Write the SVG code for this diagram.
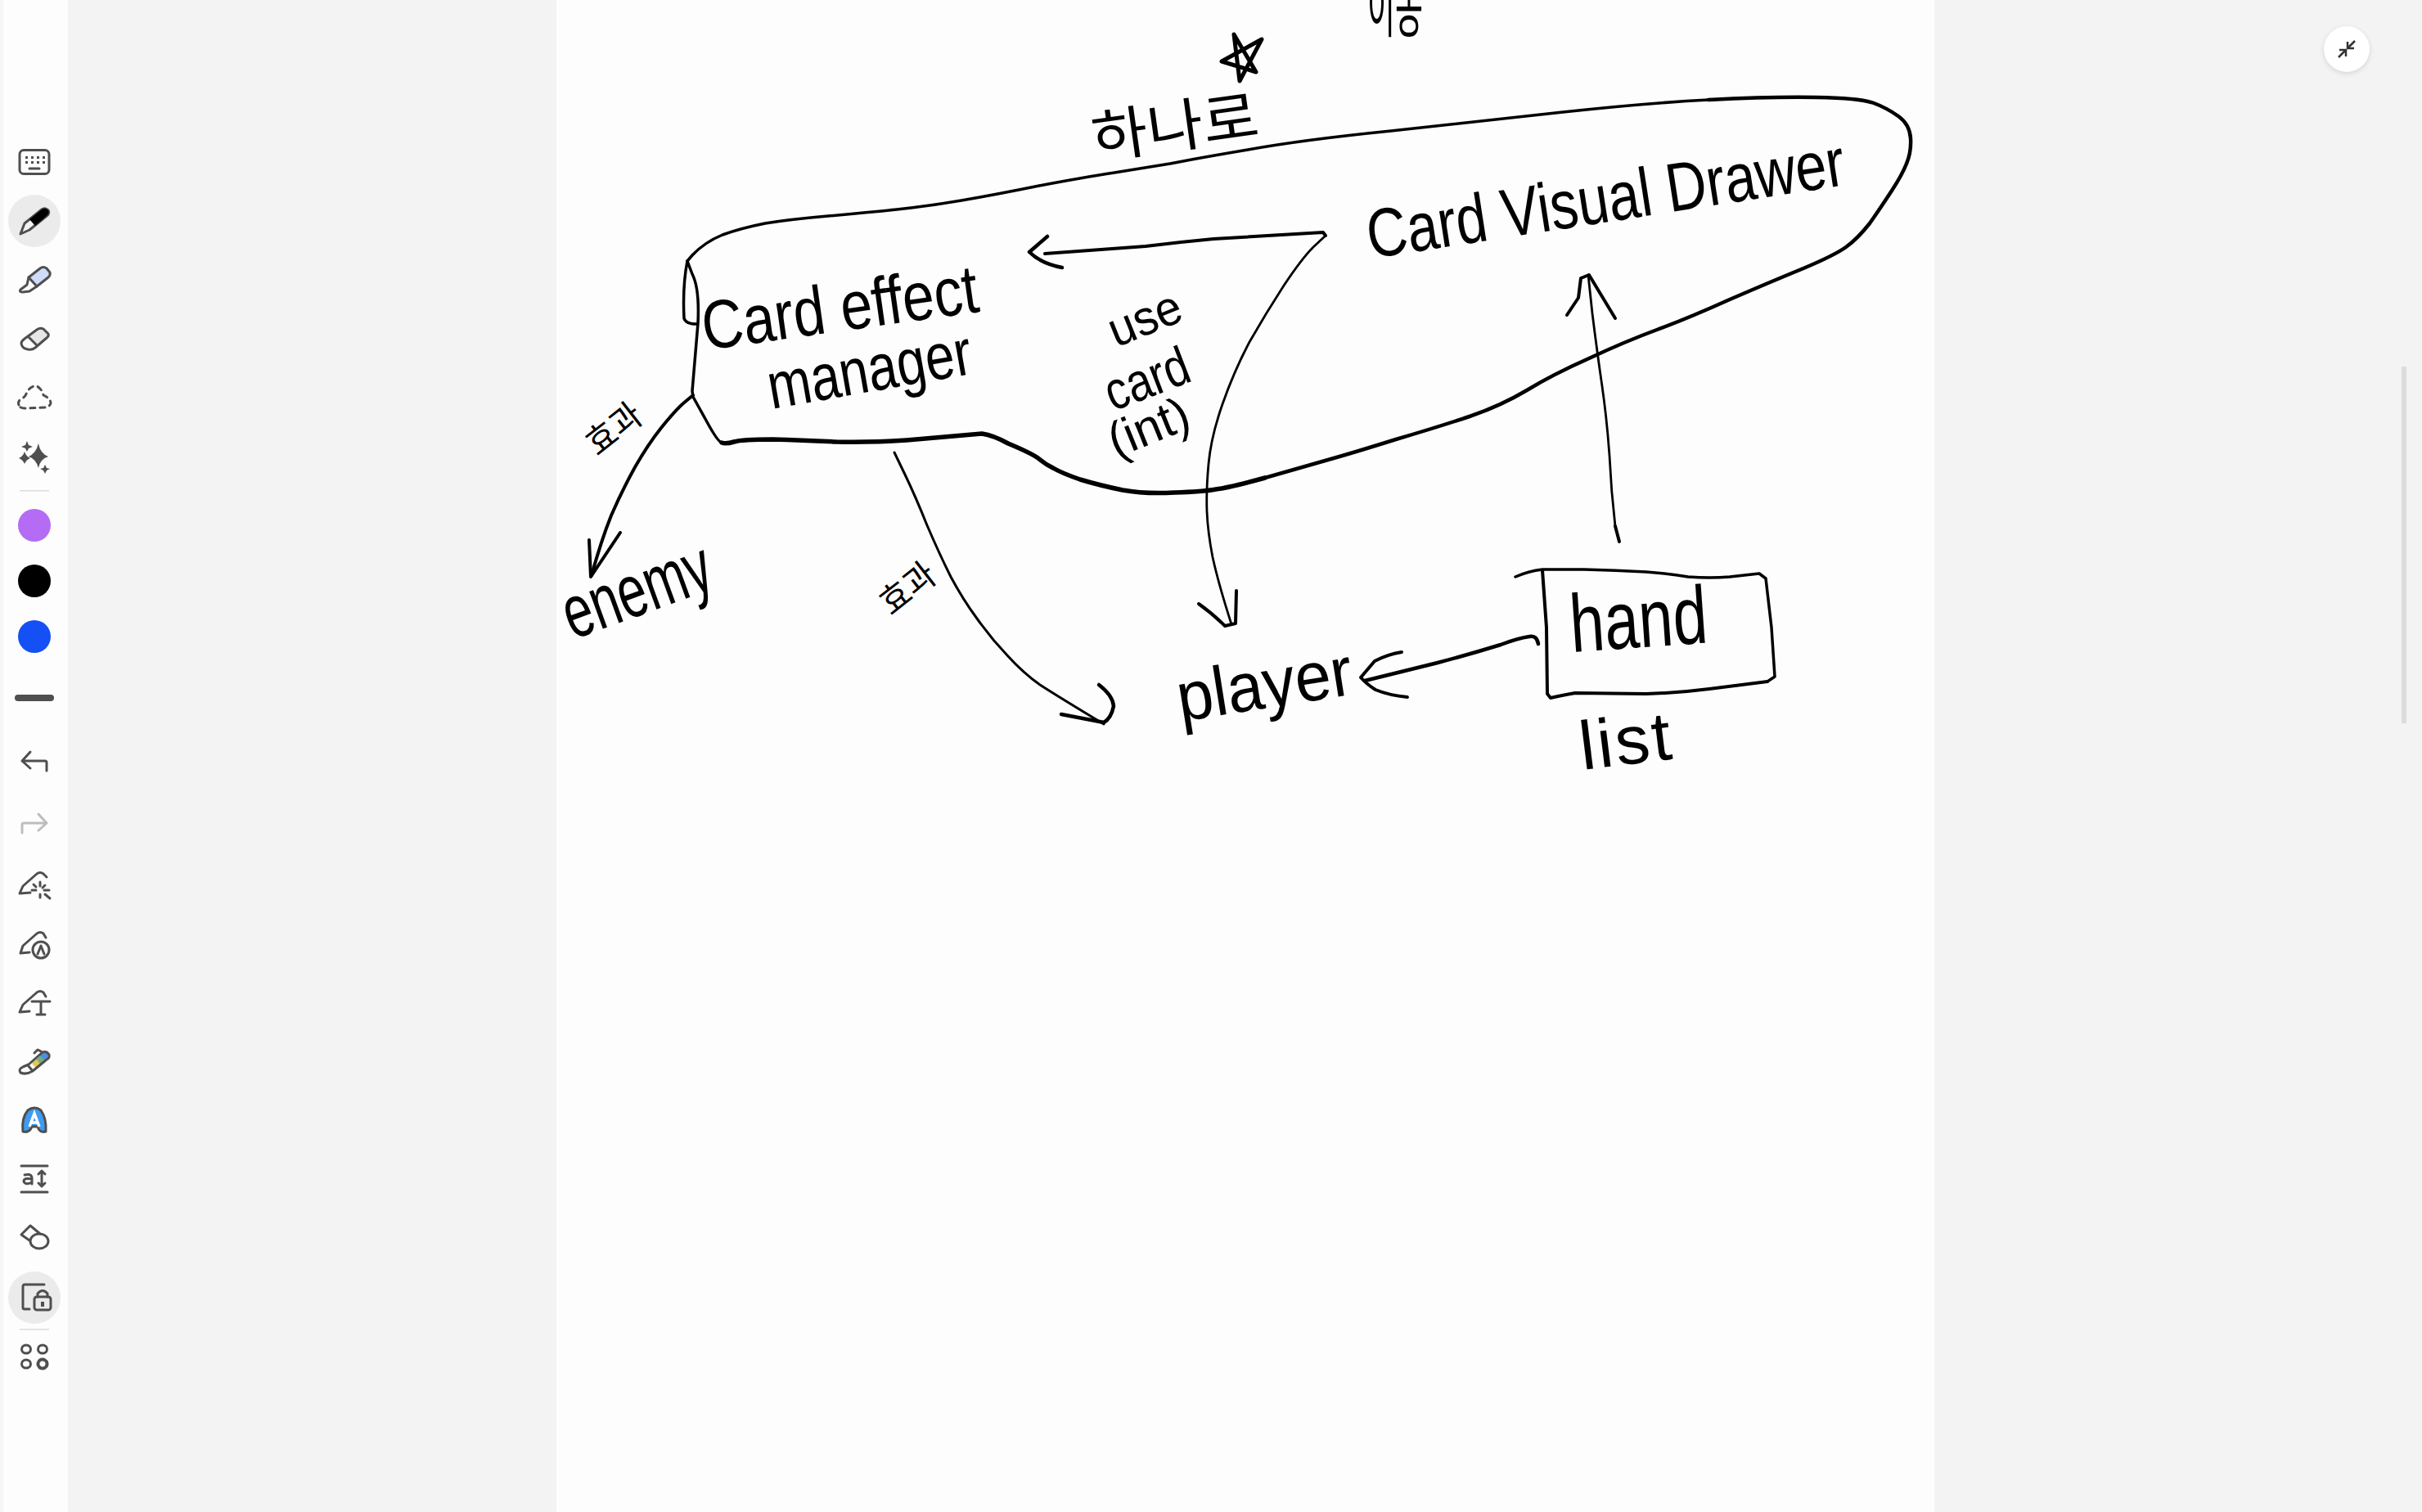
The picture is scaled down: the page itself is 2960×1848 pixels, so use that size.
<svg xmlns="http://www.w3.org/2000/svg" width="2960" height="1848" viewBox="0 0 2960 1848">
<style>
.ink{fill:none;stroke:#000;stroke-linecap:round;stroke-linejoin:round}
.t{fill:#000;font-family:"Liberation Sans","Noto Sans CJK KR",sans-serif;font-weight:400}
.k{fill:#000;font-family:"Noto Sans CJK KR",sans-serif;font-weight:400}
.ic{fill:none;stroke:#4f4f4f;stroke-width:3;stroke-linecap:round;stroke-linejoin:round}
.f{fill:#4f4f4f;stroke:none}
</style>
<defs>
<filter id="sh" x="-30%" y="-30%" width="160%" height="160%"><feGaussianBlur stdDeviation="3"/></filter>
</defs>
<rect id="backdrop" width="2960" height="1848" fill="#f3f3f3"/>
<rect id="paper" x="680" y="0" width="1684" height="1848" fill="#fdfdfd"/>
<g id="toolbar">
<rect x="0" y="0" width="83" height="1848" fill="#fdfdfd"/>
<rect x="0" y="0" width="4" height="1848" fill="#f6f6f6"/>
<circle cx="42" cy="270" r="32" fill="#ebebeb"/>
<circle cx="42" cy="1586" r="32" fill="#ebebeb"/>
<g transform="translate(42,198)" class="ic"><rect x="-18" y="-14.500" width="36" height="29" rx="5"/><path class="f" d="M-11,-7h3v3h-3zM-4,-7h3v3h-3zM3,-7h3v3h-3zM10,-7h3v3h-3zM-11,-1h3v3h-3zM-4,-1h3v3h-3zM3,-1h3v3h-3zM10,-1h3v3h-3z"/><path d="M-6,8H6"/></g>
<g transform="translate(42,270)"><path d="M-17,16 L-12,3 L9,-14 Q13,-17 17,-13 Q19,-9 15,-6 L-6,11 Z" fill="#f2f2f2" stroke="#4f4f4f" stroke-width="3" stroke-linejoin="round"/><path d="M-6,-2 L9,-14 Q13,-17 17,-13 Q19,-9 15,-6 L1,6 Z" fill="#000"/></g>
<g transform="translate(42,342)"><path d="M-7,-3 L7,-14 Q11,-17 15,-14 L19,-9 Q20,-6 17,-3 L3,8 Z" fill="#cfdcf8" stroke="#4f4f4f" stroke-width="3" stroke-linejoin="round"/><path class="ic" d="M-7,-3 L-9,6 L-17,12 Q-19,15 -14,15 L-6,14 L3,8"/></g>
<g transform="translate(42,413)"><path d="M-7,-1 L3,-10 Q7,-13 11,-11 L17,-5 Q18,-2 15,0 L3,9 Z" fill="#e6e6e6"/><path class="ic" d="M-12,1 L3,-10 Q7,-13 11,-11 L17,-5 Q18,-2 15,0 L1,12 Q-3,15 -8,14 Q-15,13 -16,7 Q-16,4 -12,1 Z M-7,-1 L3,9"/></g>
<g transform="translate(42,487)"><path class="ic" stroke-dasharray="6 6" d="M-19,8 Q-21,3 -15,0 Q-11,-2 -9,-8 Q-4,-16 3,-15 Q9,-12 11,-4 Q20,0 20,6 Q18,11 12,11 L-12,12 Q-18,12 -19,8 Z"/></g>
<g transform="translate(42,559)" class="f"><path d="M5,-17 Q7,-5 17,-1 Q7,2 5,13 Q2,2 -7,-1 Q2,-5 5,-17 Z"/><path d="M-9,-20 L-7,-15 L-2,-13 L-7,-11 L-9,-7 L-11,-11 L-16,-13 L-11,-15Z"/><path d="M-12,-7 Q-10,-1 -5,1 Q-10,3 -12,8 Q-14,3 -19,1 Q-14,-1 -12,-7 Z"/><path d="M13,9 L15,13 L19,14 L15,16 L13,20 L11,16 L7,14 L11,13Z"/></g>
<rect x="24" y="599" width="36" height="1.500" fill="#dcdcdc"/>
<circle cx="42" cy="642" r="20" fill="#b56cf4"/>
<circle cx="42" cy="710" r="20" fill="#000"/>
<circle cx="42" cy="778" r="20" fill="#1450f5"/>
<rect x="18" y="849" width="48" height="8" rx="4" fill="#4f4f4f"/>
<g transform="translate(42,929)" class="ic"><path d="M15,13 V3 Q15,1 13,1 H-15 M-5,-10 L-15,1 L-5,10"/></g>
<g transform="translate(42,1005)" class="ic" style="stroke:#bdbdbd"><path d="M-15,13 V3 Q-15,1 -13,1 H15 M5,-10 L15,1 L5,10"/></g>
<g transform="translate(42,1080)" class="ic"><path d="M-18,12 L-14,3 L3,-12 Q7,-15 11,-12 L15,-8 M-18,12 L-5,11"/><path d="M7,-2V3M7,13V17M-3,8H2M12,8H18M-1,1L2,4M13,13L19,18M13,2L10,5" stroke-width="3"/></g>
<g transform="translate(42,1153)" class="ic"><path d="M-17,12 L-14,3 L3,-12 Q7,-15 11,-12 L14,-7 M-17,12 L-6,11"/><circle cx="8" cy="8" r="10"/><path d="M8,3 L4,13 M8,3 L12,13"/></g>
<g transform="translate(42,1225)" class="ic"><path d="M-18,12 L-14,3 L3,-12 Q7,-15 11,-12 L14,-7 M-18,12 L-6,11"/><path d="M-3,-1 H19 M8,-1 V15 M3,15 H13"/></g>
<g transform="translate(42,1297)"><path d="M-2,2 L11,-10 Q16,-12 18,-7 L4,6 Z" fill="#6fae7e"/><path d="M6,-7 L12,-11 Q17,-12 18,-7 L13,-1 Z" fill="#4f8fe0"/><path d="M-3,3 L3,-2 L8,5 L3,9 Z" fill="#e8c84a"/><path class="ic" d="M-7,4 L10,-11 Q15,-13 18,-8 Q19,-4 15,-2 L-2,12 Q-10,17 -17,14 Q-20,10 -14,7 Z M-8,5 L-2,12 M0,-10 L4,-14 L8,-12"/></g>
<g transform="translate(42,1369)"><path d="M-14,14 Q-16,-2 -8,-12 Q0,-18 8,-12 Q15,-2 14,14 Q6,16 4,8 L-3,8 Q-6,16 -14,14 Z" fill="#3f9bf2" stroke="#4f4f4f" stroke-width="3" stroke-linejoin="round"/><path d="M-6,8 L0,-8 L6,8 M-3,3 H3" fill="none" stroke="#fff" stroke-width="3.500"/></g>
<g transform="translate(42,1441)" class="ic"><path d="M-16,-16 H16 M-16,16 H16 M9,-10 V9 M5,-6 L9,-10 L13,-6 M5,5 L9,9 L13,5"/><path d="M-12,-5 Q-4,-7 -3,-2 V6 M-3,0 Q-13,-2 -13,3 Q-11,8 -3,4"/></g>
<g transform="translate(42,1512)" class="ic"><path d="M-6,4 L-16,-3 L-5,-14 L7,-4"/><ellipse cx="6" cy="5" rx="11" ry="9"/></g>
<g transform="translate(42,1586)" class="ic"><path d="M12,-16 H-12 Q-14,-16 -14,-13 V12 Q-14,14 -12,14 H-6"/><rect x="0" y="-1" width="20" height="16" rx="3"/><path d="M4,-1 V-5 Q10,-12 16,-5 V-1"/><path class="f" d="M8,5h4v6h-4z"/></g>
<rect x="24" y="1624" width="36" height="1.500" fill="#dcdcdc"/>
<g transform="translate(42,1658)" class="ic"><ellipse cx="-10" cy="-9" rx="5.500" ry="5"/><ellipse cx="10" cy="-9" rx="5.500" ry="5"/><ellipse cx="-10" cy="9" rx="5.500" ry="5"/><circle cx="10" cy="9" r="5.500" stroke-width="4" stroke-dasharray="3 2"/></g>
</g>
<g id="scrollbar"><rect x="2935" y="448" width="6" height="436" fill="#dcdcdc"/></g>
<g id="collapse-button">
<circle cx="2868" cy="62" r="28" fill="#000" opacity="0.12" filter="url(#sh)"/>
<circle cx="2868" cy="60" r="28" fill="#fff"/>
<path d="M2878,50 L2870,58 M2869,51 V59 H2877 M2858,70 L2866,62 M2867,69 V61 H2859" fill="none" stroke="#333" stroke-width="2.500"/>
</g>
<g id="group-outline">
<path class="ink" stroke-width="3.500" d="M840,319 L846,312 Q861,296 883,287 Q905,279 935,273 Q966,268 1012,264 Q1058,260 1096,256 Q1134,252 1175,245 Q1216,238 1270,227 Q1323,217 1362,211 Q1400,205 1430,200 Q1460,194 1525,183 Q1591,171 1700,160 Q1808,148 1910,137 Q2012,126 2088,122"/>
<path class="ink" stroke-width="4.500" d="M2088,122 Q2165,118 2220,119 Q2274,120 2290,126 Q2306,132 2320,142 Q2334,152 2335,169 Q2336,186 2330,200 Q2325,213 2312,233 Q2299,253 2285,273 Q2270,292 2256,302 Q2242,312 2204,328 Q2165,344 2114,366 Q2063,389 2025,403 Q1987,417 1942,438 Q1897,458 1866,477 Q1834,496 1796,509 Q1757,522 1706,537 Q1655,553 1623,562 Q1591,571 1546,584"/>
<path class="ink" stroke-width="5.500" d="M1546,584 Q1502,596 1486,598 Q1470,601 1435,602 Q1400,604 1372,599 Q1343,593 1320,586 Q1297,578 1287,572 Q1277,567 1270,561 Q1263,555 1232,542 Q1214,532 1200,530 L1177,532 Q1154,534 1108,538 Q1062,541 1022,540 Q981,538 944,537 Q907,537 897,540 Q887,543 882,541"/>
<path class="ink" stroke-width="3.500" d="M882,541 Q877,540 862,512 L847,485 L846,478 L853,395 Q855,352 846,335 L840,319 Q834,350 836,389 Q838,396 851,396"/>
</g>
<g id="connectors">
<path class="ink" stroke-width="4" d="M847,483 L835,493 Q824,503 808,523 Q792,543 776,571 Q760,600 747,630 Q735,660 723,703"/>
<path class="ink" stroke-width="4" d="M720,660 L722,705 L758,651"/>
<path class="ink" stroke-width="3" d="M1093,553 L1106,580 Q1119,607 1133,642 Q1148,677 1162,705 Q1177,733 1194,756 Q1211,780 1231,801 Q1251,823 1271,837 Q1291,850 1349,885"/>
<path class="ink" stroke-width="4.500" d="M1343,837 Q1360,850 1361,863 Q1358,878 1349,883 L1297,873"/>
<path class="ink" stroke-width="4" d="M1277,310 L1400,301 Q1440,296 1483,292 L1617,284 L1620,288"/>
<path class="ink" stroke-width="4.500" d="M1280,289 L1258,308 Q1272,322 1298,327"/>
<path class="ink" stroke-width="2.800" d="M1620,288 L1605,302 Q1591,316 1569,349 Q1547,383 1527,418 Q1508,454 1494,494 Q1480,534 1477,567 Q1474,600 1475,625 Q1476,650 1482,681 Q1489,713 1505,763"/>
<path class="ink" stroke-width="4" d="M1465,738 Q1482,750 1497,765 L1510,762 L1511,722"/>
<path class="ink" stroke-width="2.800" d="M1941,336 L1946,383 Q1952,431 1958,472 Q1964,514 1967,557 Q1969,600 1974,643"/>
<path class="ink" stroke-width="4" d="M1974,643 L1979,662"/>
<path class="ink" stroke-width="4" d="M1915,385 L1929,364 L1932,340 L1942,336 L1974,389"/>
<path class="ink" stroke-width="4.500" d="M1880,787 Q1878,776 1869,778 Q1855,780 1834,788 Q1795,800 1757,810 L1668,832"/>
<path class="ink" stroke-width="4" d="M1713,797 Q1695,800 1680,808 L1663,828 Q1670,836 1681,843 Q1698,850 1720,852"/>
</g>
<g id="node-hand">
<path class="ink" stroke-width="3.500" d="M1852,705 Q1868,698 1885,696 L1936,696 Q1975,697 2012,699 Q2040,701 2063,705 Q2090,707 2114,705 L2150,701 L2158,707 L2165,767 L2169,827 L2160,833"/>
<path class="ink" stroke-width="4" d="M2160,833 L2089,842 Q2050,847 2012,848 L1925,847 Q1908,850 1895,853 L1891,848 L1890,767 L1885,697"/>
<text class="t" font-size="100" textLength="168" lengthAdjust="spacingAndGlyphs" transform="translate(1921,797) rotate(-4)">hand</text>
<text class="t" font-size="84" textLength="112" transform="translate(1934,941) rotate(-7)">list</text>
</g>
<g id="node-card-effect-manager">
<text class="t" font-size="84" textLength="340" lengthAdjust="spacingAndGlyphs" transform="translate(862,428) rotate(-8)">Card effect</text>
<text class="t" font-size="80" textLength="252" lengthAdjust="spacingAndGlyphs" transform="translate(943,500) rotate(-10)">manager</text>
</g>
<g id="node-card-visual-drawer">
<text class="t" font-size="84" textLength="590" lengthAdjust="spacingAndGlyphs" transform="translate(1675,316) rotate(-8.800)">Card Visual Drawer</text>
</g>
<g id="node-enemy">
<text class="t" font-size="92" textLength="188" lengthAdjust="spacingAndGlyphs" transform="translate(700,782) rotate(-20)">enemy</text>
</g>
<g id="node-player">
<text class="t" font-size="85" textLength="216" lengthAdjust="spacingAndGlyphs" transform="translate(1443,882) rotate(-9)">player</text>
</g>
<g id="labels">
<text class="t" font-size="60" textLength="92" lengthAdjust="spacingAndGlyphs" transform="translate(1364,425) rotate(-22)">use</text>
<text class="t" font-size="66" textLength="106" lengthAdjust="spacingAndGlyphs" transform="translate(1360,503) rotate(-21)">card</text>
<text class="t" font-size="60" textLength="102" lengthAdjust="spacingAndGlyphs" transform="translate(1364,560) rotate(-22)">(int)</text>
<text class="k" font-size="70" textLength="205" lengthAdjust="spacingAndGlyphs" transform="translate(1338,194) rotate(-8)">하나로</text>
<path class="ink" stroke-width="5" d="M1508,42 L1535,88 L1493,75 L1542,48 L1515,99 Z"/>
<text class="k" font-size="80" textLength="68" lengthAdjust="spacingAndGlyphs" x="1671" y="38">이동</text>
<text class="k" font-size="42" textLength="74" lengthAdjust="spacingAndGlyphs" text-anchor="middle" y="15" transform="translate(750,524) rotate(-38)">효과</text>
<text class="k" font-size="42" textLength="74" lengthAdjust="spacingAndGlyphs" text-anchor="middle" y="15" transform="translate(1109,719) rotate(-38)">효과</text>
</g>
</svg>
